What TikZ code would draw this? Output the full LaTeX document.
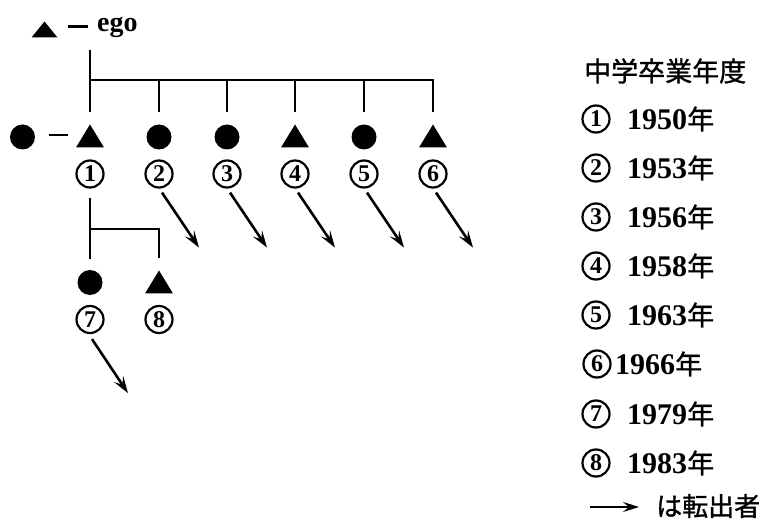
\documentclass[tikz,border=0pt]{standalone}
\usepackage{fontspec}
\setmainfont{Liberation Serif}
\newfontfamily\cjk{Noto Sans CJK JP}[FakeBold=1.2]
\usetikzlibrary{arrows.meta,calc}
\tikzset{
  fem/.style={circle,fill=black,inner sep=0pt,minimum size=25pt},
  mal/.style={inner sep=0pt,minimum width=28pt,minimum height=23pt,
    path picture={\fill (path picture bounding box.south west) --
      (path picture bounding box.south east) --
      (path picture bounding box.north) -- cycle;}},
  num/.style={circle,draw,line width=2.2pt,inner sep=0pt,minimum size=27pt,
    font=\bfseries\fontsize{24}{24}\selectfont},
  kin/.style={line width=2.5pt},
  dropline/.style={kin,shorten >=12pt},
  moveout/.style={line width=2.6pt,-{Stealth[length=17pt,width=11pt,inset=7pt]}},
  yeartxt/.style={anchor=west,inner sep=0pt},
}
\newcommand{\yearlabel}[1]{{\bfseries\fontsize{30}{30}\selectfont #1}{\cjk\fontsize{27}{27}\selectfont 年}}
\begin{document}
\begin{tikzpicture}[x=1pt,y=-1pt]
\useasboundingbox (0,0) rectangle (763,529);

% ego
\node[mal,minimum height=16pt,minimum width=26pt] (ego) at (44.5,29.5) {};
\node[anchor=west,inner sep=0pt,font=\bfseries\fontsize{28}{28}\selectfont] (egotxt) at (97,27) {ego};
\draw[line width=2.2pt] ($(ego.east)+(10,-3)$) -- ++(20,0);

% first generation
\coordinate (top) at (90,50);
\node[fem] (sp) at (22.5,137) {};
\node[mal] (c1) at (90,136) {};
\node[fem] (c2) at (159,137) {};
\node[fem] (c3) at (227,137) {};
\node[mal] (c4) at (295,136) {};
\node[fem] (c5) at (364,137) {};
\node[mal] (c6) at (433,136) {};
\draw[line width=2.2pt] ($(sp.east)+(14,-2)$) -- ++(19,0);

\coordinate (bar) at (90,80);
\draw[dropline] (top) -- (c1.north);
\draw[dropline] (bar) -| (c6.north);
\foreach \c in {c2,c3,c4,c5}
  \draw[dropline] (\c |- bar) -- (\c.north);

% birth-order numbers
\foreach \i/\x in {1/90,2/159,3/227,4/295,5/364,6/433}
  \node[num] (n\i) at (\x,174) {\i};
\foreach \i in {2,...,6}
  \draw[moveout] ($(n\i.south)+(3,4)$) -- ++(37,55);

% second generation
\coordinate (top2) at (90,198);
\coordinate (bar2) at (90,229);
\node[fem] (c7) at (90,282.5) {};
\node[mal] (c8) at (159,282) {};
\draw[kin] (top2) -- ($(c7.north)+(0,-11)$);
\draw[dropline] (bar2) -| (c8.north);
\node[num] (n7) at (90,319.5) {7};
\node[num] (n8) at (159,319.5) {8};
\draw[moveout] ($(n7.south)+(2,5)$) -- ++(36,54);

% legend
\node[anchor=west,inner sep=0pt,font=\cjk\fontsize{27}{27}\selectfont] (head) at (584,71) {中学卒業年度};
\foreach \i/\yr/\y in {1/1950/119,2/1953/168,3/1956/217,4/1958/266,5/1963/315,7/1979/414,8/1983/463}{
  \node[num] (l\i) at (596,\y) {\i};
  \node[yeartxt] (y\i) at (627,\y) {\yearlabel{\yr}};
}
\node[num] (l6) at (597,364) {6};
\node[yeartxt] (y6) at (615,364) {\yearlabel{1966}};

\coordinate (k0) at (590,507);
\coordinate (k1) at (639,507);
\draw[line width=2.2pt,-{Stealth[length=16pt,width=10pt,inset=6pt]}] (k0) -- (k1);
\node[anchor=west,inner sep=0pt,font=\cjk\fontsize{26}{26}\selectfont] (key) at (656,506) {は転出者};
\end{tikzpicture}
\end{document}
